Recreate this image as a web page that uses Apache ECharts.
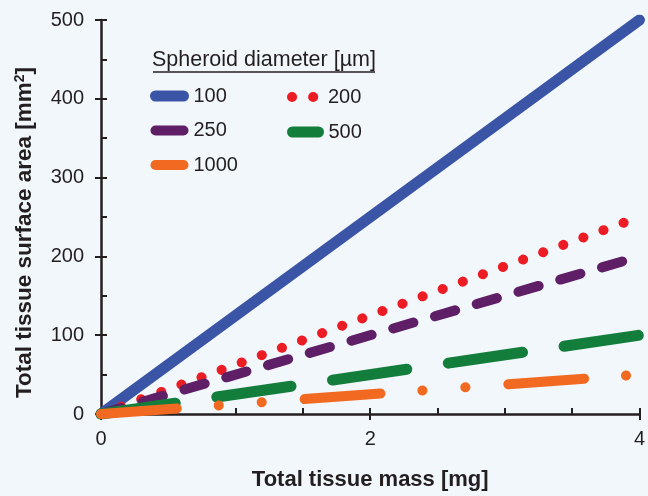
<!DOCTYPE html>
<html>
<head>
<meta charset="utf-8">
<script src="https://cdn.jsdelivr.net/npm/echarts@6/dist/echarts.min.js"></script>
<style>
  html, body { margin: 0; padding: 0; background: #F2F7FC; }
  #chart { width: 648px; height: 496px; }
</style>
</head>
<body>
<div id="chart"></div>
<script>
// 数据：总组织质量 [mg] 与 各球体直径下的总表面积 [mm²]
const masses = [0, 4];
const diameters = ['100', '200', '250', '500', '1000'];
const area100 = [0, 500];
const area200 = [0, 250];
const area250 = [0, 200];
const area500 = [0, 100];
const area1000 = [0, 50];
const xTicks = [0, 2, 4];
const yTicks = [0, 100, 200, 300, 400, 500];

const ink = '#231F20';
const font = 'Liberation Sans, Arial, Helvetica, sans-serif';

function pairs(vals) {
    return masses.map((m, i) => [m, vals[i]]);
}

function lineSeries(name, vals, color, width, dash) {
    return {
        name: name,
        type: 'line',
        data: pairs(vals),
        symbol: 'none',
        silent: true,
        lineStyle: { color: color, width: width, type: dash, cap: 'round' },
        itemStyle: { color: color }
    };
}

var myChart = echarts.init(document.getElementById('chart'));

// 图例：两列，图标只画线，不画圆点
function legendCol(data, left, top, itemWidth, itemHeight) {
    return {
        data: data, left: left, top: top,
        orient: 'vertical', padding: 0,
        itemWidth: itemWidth, itemHeight: itemHeight, itemGap: 14.5,
        itemStyle: { opacity: 0 },
        lineStyle: { width: 'inherit', type: 'inherit', cap: 'round' },
        textStyle: { fontSize: 20, color: ink, fontFamily: font, padding: [0, 0, 0, 5] }
    };
}

var option = {
    backgroundColor: '#F2F7FC',
    animation: false,
    textStyle: { fontFamily: font, color: ink },
    grid: { left: 101, right: 3, top: 20, bottom: 67 },
    title: {
        text: 'Spheroid diameter [µm]',
        left: 152, top: 49, padding: 0,
        textStyle: { fontSize: 21.5, fontWeight: 'normal', color: ink, fontFamily: font }
    },
    graphic: [{
        type: 'line',
        shape: { x1: 153, y1: 72, x2: 375, y2: 72 },
        style: { stroke: ink, lineWidth: 1.5 }
    }],
    legend: [
        legendCol([
            diameters[0],
            { name: diameters[2], lineStyle: { width: 10, type: 'solid', cap: 'round' } },
            diameters[4]
        ], 150, 86, 28, 2),
        legendCol([
            { name: diameters[1], lineStyle: { width: 10, type: [0.1, 21], cap: 'round' } }
        ], 287, 87, 26, 17.5),
        legendCol([diameters[3]], 287, 122, 26, 2)
    ],
    xAxis: [{
        type: 'value', min: 0, max: 4, interval: 2,
        name: 'Total tissue mass [mg]', nameLocation: 'middle', nameGap: 55,
        nameTextStyle: { fontSize: 22, fontWeight: 'bold', color: ink, fontFamily: font },
        axisLine: { show: true, onZero: false, lineStyle: { color: ink, width: 2.5 } },
        axisTick: { show: true, inside: false, length: 6, lineStyle: { color: ink, width: 2 } },
        axisLabel: { fontSize: 20, color: ink, margin: 15,
            formatter: v => xTicks.includes(v) ? String(v) : '' },
        splitLine: { show: false }
    }, {
        type: 'value', min: 0, max: 4, interval: 0.5, position: 'bottom',
        axisLine: { show: false },
        axisTick: { show: true, inside: true, length: 6, lineStyle: { color: ink, width: 2 } },
        axisLabel: { show: false },
        splitLine: { show: false }
    }],
    yAxis: [{
        type: 'value', min: 0, max: 500, interval: 100,
        name: 'Total tissue surface area [mm{sup|2}]', nameLocation: 'middle', nameGap: 65,
        nameTextStyle: {
            fontSize: 22.5, fontWeight: 'bold', color: ink, fontFamily: font,
            padding: [0, 31, 0, 0],
            rich: { sup: { fontSize: 14, fontWeight: 'bold', verticalAlign: 'top', padding: [0, 0, 8, 0] } }
        },
        axisLine: { show: true, onZero: false, lineStyle: { color: ink, width: 2.5 } },
        axisTick: { show: true, inside: false, length: 6, lineStyle: { color: ink, width: 2 } },
        axisLabel: { fontSize: 20, color: ink, margin: 17,
            formatter: v => yTicks.includes(v) ? String(v) : '' },
        splitLine: { show: false }
    }, {
        type: 'value', min: 0, max: 500, interval: 50, position: 'left',
        axisLine: { show: false },
        axisTick: { show: true, inside: true, length: 6, lineStyle: { color: ink, width: 2 } },
        axisLabel: { show: false },
        splitLine: { show: false }
    }],
    series: [
        lineSeries(diameters[0], area100, '#3A55A5', 11, 'solid'),
        lineSeries(diameters[1], area200, '#EC1C24', 10, [0.1, 21.3]),
        lineSeries(diameters[2], area250, '#5E1F67', 10, [21, 22.5]),
        lineSeries(diameters[3], area500, '#137E3B', 11, [75, 42]),
        lineSeries(diameters[4], area1000, '#F26A21', 10, [76, 42, 0.1, 43, 0.1, 43])
    ]
};

myChart.setOption(option);
</script>
</body>
</html>
